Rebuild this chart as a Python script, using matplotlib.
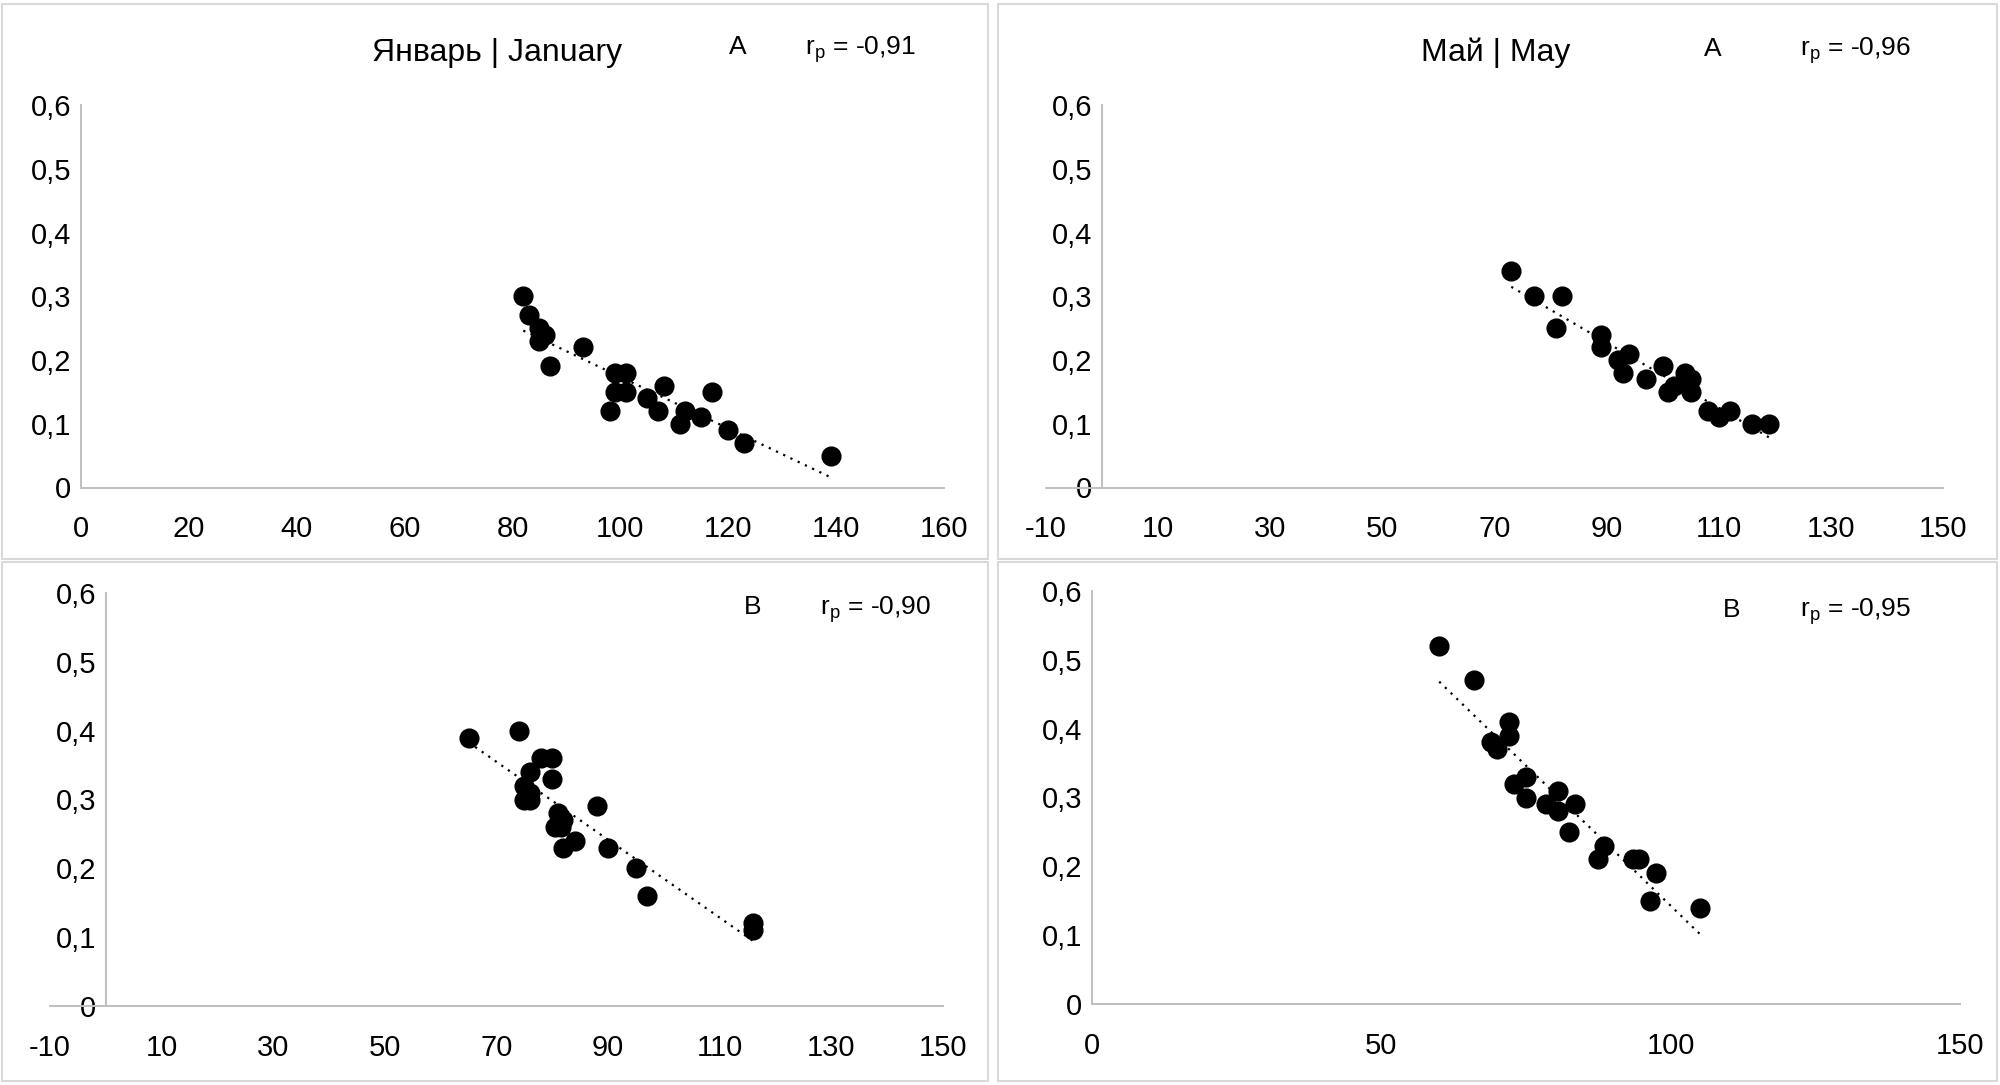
import numpy as np
import matplotlib
matplotlib.use("Agg")
import matplotlib.pyplot as plt
from matplotlib.patches import Rectangle
from matplotlib.ticker import FuncFormatter, MultipleLocator

# fonts: excel look, narrow sans
plt.rcParams['font.family'] = ['Liberation Sans Narrow', 'Liberation Sans', 'DejaVu Sans']
plt.rcParams['mathtext.fontset'] = 'custom'
plt.rcParams['mathtext.rm'] = 'Liberation Sans'
plt.rcParams['mathtext.default'] = 'rm'

# january, A
jan_a_x = [82, 83, 85, 86, 85, 87, 93, 99, 101, 99, 101, 98, 105, 108, 107, 112, 111, 115, 117, 120, 123, 139]
jan_a_y = [0.30, 0.27, 0.25, 0.24, 0.23, 0.19, 0.22, 0.18, 0.18, 0.15, 0.15, 0.12, 0.14, 0.16, 0.12, 0.12, 0.10, 0.11, 0.15, 0.09, 0.07, 0.05]

# may, A
may_a_x = [73, 77, 82, 81, 89, 89, 92, 94, 93, 97, 100, 102, 101, 104, 105, 105, 108, 110, 112, 116, 119]
may_a_y = [0.34, 0.30, 0.30, 0.25, 0.24, 0.22, 0.20, 0.21, 0.18, 0.17, 0.19, 0.16, 0.15, 0.18, 0.17, 0.15, 0.12, 0.11, 0.12, 0.10, 0.10]

# january, B
jan_b_x = [65, 74, 78, 80, 76, 80, 75, 76, 75, 76, 88, 81, 82, 80.5, 81.5, 84, 82, 90, 95, 97, 116, 116]
jan_b_y = [0.39, 0.40, 0.36, 0.36, 0.34, 0.33, 0.32, 0.31, 0.30, 0.30, 0.29, 0.28, 0.27, 0.26, 0.26, 0.24, 0.23, 0.23, 0.20, 0.16, 0.12, 0.11]

# may, B
may_b_x = [60, 66, 72, 72, 69, 70, 75, 73, 75, 80.5, 78.5, 83.5, 80.5, 82.5, 88.5, 87.5, 93.5, 94.5, 97.5, 96.5, 105]
may_b_y = [0.52, 0.47, 0.41, 0.39, 0.38, 0.37, 0.33, 0.32, 0.30, 0.31, 0.29, 0.29, 0.28, 0.25, 0.23, 0.21, 0.21, 0.21, 0.19, 0.15, 0.14]

titles = ["Январь | January", "Май | May", "", ""]
letters = ["A", "A", "B", "B"]
r_values = ["-0,91", "-0,96", "-0,90", "-0,95"]

W, H = 2000, 1085
fig = plt.figure(figsize=(20, 10.85), dpi=100)

def comma(v, pos):
    return ('%g' % round(v, 2)).replace('.', ',')

# axes boxes in pixels: left, top(0.6), right, bottom(0)
boxes = [(81, 105, 944, 487.5), (1046, 105, 1943, 487.5),
         (50, 593, 943, 1006), (1092, 591, 1960, 1004)]
xlims = [(0, 160, 20), (-10, 150, 20), (-10, 150, 20), (0, 150, 50)]
datas = [(jan_a_x, jan_a_y), (may_a_x, may_a_y), (jan_b_x, jan_b_y), (may_b_x, may_b_y)]

for i in range(4):
    l, t, r, b = boxes[i]
    ax = fig.add_axes([l / W, 1 - b / H, (r - l) / W, (b - t) / H])
    ax.set_facecolor('none')
    x = np.array(datas[i][0], dtype=float)
    y = np.array(datas[i][1], dtype=float)
    ax.plot(x, y, 'o', color='black', ms=13.5, zorder=3, clip_on=False)
    # linear trendline, like excel
    k, c = np.polyfit(x, y, 1)
    xs = np.array([x.min(), x.max()])
    ax.plot(xs, k * xs + c, color='black', lw=1.6, linestyle=(0, (1, 2.6)), zorder=2)
    xmin, xmax, step = xlims[i]
    ax.set_xlim(xmin, xmax)
    ax.set_ylim(0, 0.6)
    ax.xaxis.set_major_locator(MultipleLocator(step))
    ax.yaxis.set_major_locator(MultipleLocator(0.1))
    if xmin < 0:
        ax.set_xticks(np.arange(xmin, xmax + 1, step))
    ax.xaxis.set_major_formatter(FuncFormatter(comma))
    ax.yaxis.set_major_formatter(FuncFormatter(comma))
    for s in ['top', 'right']:
        ax.spines[s].set_visible(False)
    ax.spines['left'].set_position(('data', 0))
    ax.spines['bottom'].set_position(('data', 0))
    for s in ['left', 'bottom']:
        ax.spines[s].set_color('#bfbfbf')
        ax.spines[s].set_linewidth(1.4)
    ax.tick_params(axis='x', length=0, labelsize=21, pad=20, colors='#000000')
    ax.tick_params(axis='y', length=0, labelsize=21, pad=7, colors='#000000')

# titles and labels
fig.text(497 / W, 1 - 61 / H, titles[0], fontsize=23, ha='center', va='baseline')
fig.text(1496 / W, 1 - 61 / H, titles[1], fontsize=23, ha='center', va='baseline')
let_pos = [(738, 54.5), (1713, 55.5), (753, 614.5), (1732, 617)]
r_pos = [(805, 54.5), (1800, 55.5), (820, 614.5), (1800, 617)]
for i in range(4):
    fig.text(let_pos[i][0] / W, 1 - let_pos[i][1] / H, letters[i], fontsize=19, ha='center', va='baseline')
    fig.text(r_pos[i][0] / W, 1 - r_pos[i][1] / H, 'r$_p$ = ' + r_values[i], fontsize=19, ha='left', va='baseline')

# panel borders
for (x0, y0, x1, y1) in [(2, 4, 988, 559), (998, 4, 1997, 559), (2, 562, 988, 1081), (998, 562, 1997, 1081)]:
    fig.add_artist(Rectangle((x0 / W, 1 - y1 / H), (x1 - x0) / W, (y1 - y0) / H,
                             transform=fig.transFigure, fill=False, ec='#d9d9d9', lw=1.5))

fig.savefig('out.png', dpi=100, facecolor='white')
